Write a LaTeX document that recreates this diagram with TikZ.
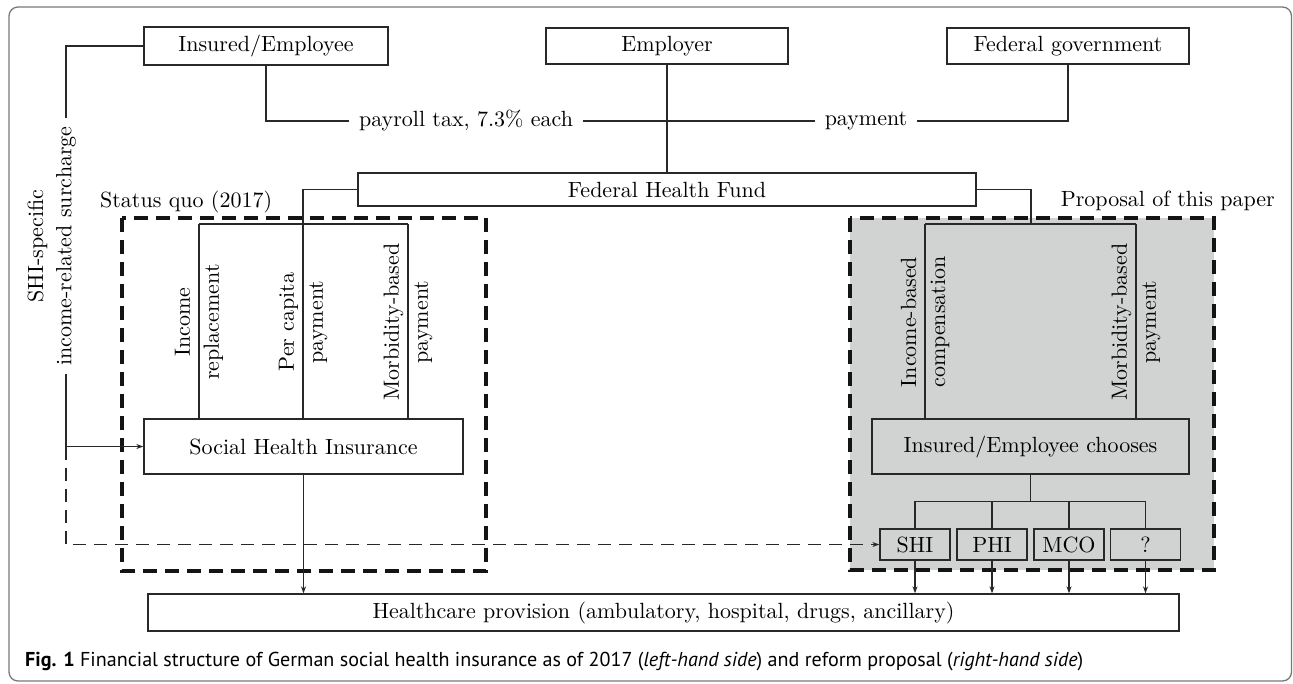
\documentclass[tikz,border=0pt]{standalone}
\usepackage{fontspec}
\setmainfont{lmroman10-regular.otf}[BoldFont=lmroman10-bold.otf,ItalicFont=lmroman10-italic.otf]
\newfontfamily\capfont{PT Sans}
\usetikzlibrary{arrows.meta}
\definecolor{propgray}{RGB}{209,210,210}
\definecolor{lnc}{RGB}{40,40,40}
\definecolor{framec}{RGB}{120,120,120}
\begin{document}
\begin{tikzpicture}[x=1pt,y=-1pt,
  every node/.style={font=\fontsize{22}{29}\selectfont},
  box/.style={draw=lnc,line width=1.3pt,inner sep=0pt,align=center},
  ln/.style={draw=lnc,line width=1.2pt},
  arr/.style={ln,-{Stealth[length=7pt,width=5pt]}},
  dashln/.style={ln,dash pattern=on 13pt off 8pt},
  thickdash/.style={draw=black!92,line width=4.5pt,dash pattern=on 14pt off 8pt},
  rlab/.style={rotate=90,align=center,inner sep=0pt}
]
\useasboundingbox (0,0) rectangle (1293,683);
\draw[framec,line width=1.3pt,rounded corners=9pt] (9,7) rectangle (1291.5,681);

% regions
\fill[propgray] (850,218) rectangle (1214,570);
\draw[thickdash] (122,218) rectangle (486,571);
\draw[thickdash] (850,218) rectangle (1214,570);
\node[anchor=base west,inner sep=0pt] (sq) at (100,207) {Status quo (2017)};
\node[anchor=base east,inner sep=0pt] (pp) at (1275,206) {Proposal of this paper};

% top row
\node[box,minimum width=244pt,minimum height=38pt] (ins) at (266,46) {Insured/Employee};
\node[box,minimum width=242pt,minimum height=36pt] (emp) at (667,46) {Employer};
\node[box,minimum width=242pt,minimum height=36pt] (fed) at (1068,46) {Federal government};
\node[inner xsep=10pt,inner ysep=4pt] (pay) at (466,121) {payroll tax, 7.3\% each};
\node[inner xsep=10pt,inner ysep=4pt] (pm) at (866,121) {payment};
\node[box,minimum width=618pt,minimum height=33pt] (fhf) at (667,189.5) {Federal Health Fund};

\draw[ln] (ins.south) |- (pay.west);
\draw[ln] (pay.east) -- (pm.west);
\draw[ln] (pm.east) -| (fed.south);
\draw[ln] (emp.south) -- (fhf.north);

% status quo
\node[box,minimum width=319pt,minimum height=55pt] (shi) at (303.5,446.5) {Social Health Insurance};
\coordinate (a1) at (199,224);
\coordinate (a2) at (303,224);
\coordinate (a3) at (408,224);
\draw[ln] (fhf.west) -| (a2) -- (a2 |- shi.north);
\draw[ln] (a1) -- (a3);
\draw[ln] (a1) -- (a1 |- shi.north);
\draw[ln] (a3) -- (a3 |- shi.north);
\node[rlab] (l1) at (199,322) {Income\\replacement};
\node[rlab] (l2) at (303,322) {Per capita\\payment};
\node[rlab] (l3) at (408,322) {Morbidity-based\\payment};

% proposal
\node[box,fill=propgray,minimum width=317pt,minimum height=55pt] (cho) at (1030.5,446.5) {Insured/Employee chooses};
\coordinate (b1) at (925,224);
\coordinate (b2) at (1031,224);
\coordinate (b3) at (1136,224);
\draw[ln] (fhf.east) -| (b2);
\draw[ln] (b1) -- (b3);
\draw[ln] (b1) -- (b1 |- cho.north);
\draw[ln] (b3) -- (b3 |- cho.north);
\node[rlab] (r1) at (925,322) {Income-based\\compensation};
\node[rlab] (r3) at (1136,322) {Morbidity-based\\payment};

\node[box,minimum width=70pt,minimum height=31pt] (s1) at (915,544.5) {SHI};
\node[box,minimum width=70pt,minimum height=31pt] (s2) at (992,544.5) {PHI};
\node[box,minimum width=70pt,minimum height=31pt] (s3) at (1069,544.5) {MCO};
\node[box,minimum width=70pt,minimum height=31pt] (s4) at (1145.5,544.5) {?};
\draw[ln] (cho.south) -- ++(0,27) coordinate (br);
\draw[ln] (s1.north) -- (s1.north |- br) -- (s4.north |- br) -- (s4.north);
\draw[ln] (s2.north) -- (s2.north |- br);
\draw[ln] (s3.north) -- (s3.north |- br);

% healthcare
\node[box,minimum width=1031pt,minimum height=37pt] (hc) at (663.5,612.5) {Healthcare provision (ambulatory, hospital, drugs, ancillary)};
\draw[arr] (shi.south) -- (shi.south |- hc.north);
\foreach \s in {s1,s2,s3,s4} \draw[arr] (\s.south) -- (\s.south |- hc.north);

% surcharge
\node[rlab,inner xsep=8pt] (sur) at (66,246) {income-related surcharge};
\node[rlab] (sp) at (37.5,246) {SHI-specific};
\draw[ln] (ins.west) -| (sur.east);
\draw[arr] (sur.west) |- (shi.west);
\draw[dashln,-{Stealth[length=7pt,width=5pt]}] (sur.west |- shi.west) |- (s1.west);

% caption
\node[anchor=base west,inner sep=0pt,font=\capfont\fontsize{20.1}{24}\selectfont] (cap) at (25,666) {\textbf{Fig. 1} Financial structure of German social health insurance as of 2017 (\textit{left-hand side}) and reform proposal (\textit{right-hand side})};
\end{tikzpicture}
\end{document}
